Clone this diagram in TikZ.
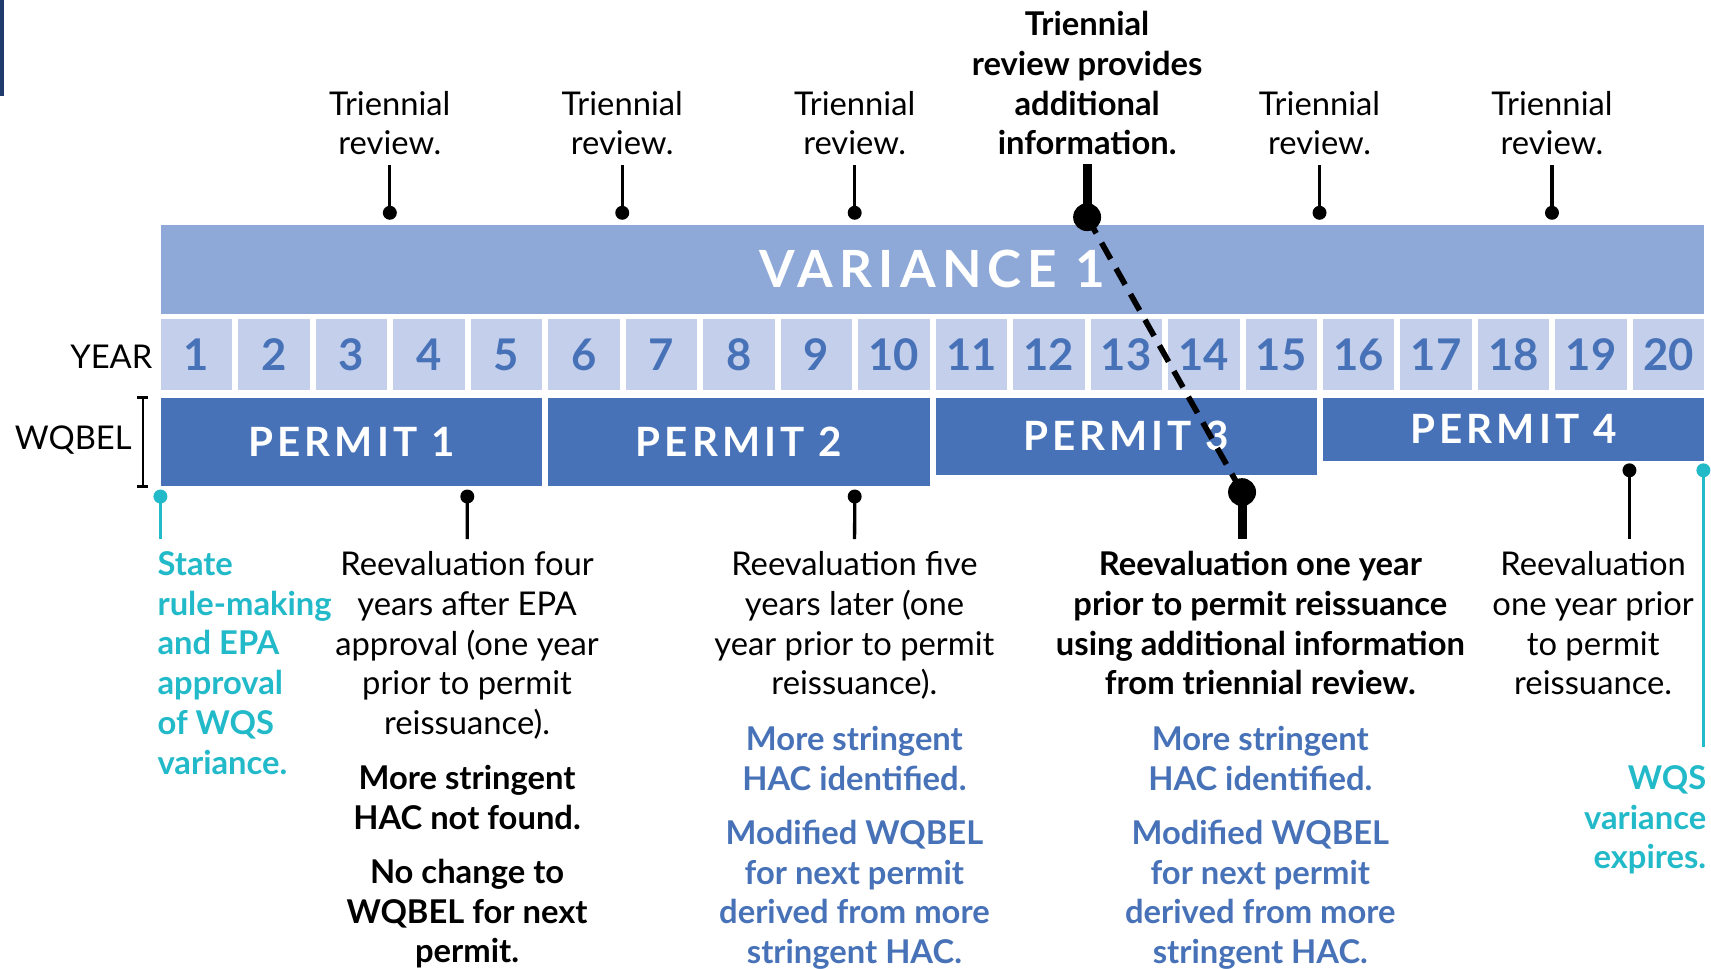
\documentclass[tikz,border=0pt]{standalone}
\usepackage{fontspec}
\setmainfont{Lato}
\newfontfamily\varfont[LetterSpace=12]{Lato}
\newfontfamily\permfont[LetterSpace=10]{Lato}
\definecolor{varblue}{HTML}{8EA9D8}
\definecolor{cellblue}{HTML}{C4D0EB}
\definecolor{permblue}{HTML}{4872B8}
\definecolor{tealc}{HTML}{22B9C9}
\definecolor{navy}{HTML}{1F3B6E}

\begin{document}
\begin{tikzpicture}[x=0.5pt,y=-0.5pt,
    body/.style={align=center,inner sep=0pt,anchor=north,font=\fontsize{15}{18.2}\selectfont},
    bodybf/.style={body,font=\fontsize{15}{18.2}\selectfont\bfseries},
    pinline/.style={line width=1.5pt},
    fatline/.style={line width=4.1pt}]
    \useasboundingbox (0,0) rectangle (1568,888);
    \fill[navy] (0,0) rectangle (4,88);

    % bars
    \node[fill=varblue,anchor=north west,inner sep=0pt,minimum width=707pt,minimum height=40.5pt,
        text=white,font=\varfont\bfseries\fontsize{23.5}{24}\selectfont] (var) at (147,206) {VARIANCE 1};
    \foreach \i in {1,...,20}
        \node[fill=cellblue,anchor=north west,inner sep=0pt,minimum width=32.75pt,minimum height=32.5pt,
            text=permblue,font=\bfseries\fontsize{20}{20}\selectfont] (y\i) at ({147+71*(\i-1)},292) {\i};
    \foreach \k/\h in {1/81,2/81,3/71,4/58}
        \node[fill=permblue,anchor=north west,inner sep=0pt,minimum width=174.75pt,minimum height=\h*0.5pt,
            text=white,font=\permfont\bfseries\fontsize{18.5}{18}\selectfont] (p\k) at ({147+355*(\k-1)},364) {PERMIT \k};

    \node[body,anchor=east] (yearlbl) at (140,327) {YEAR};
    \node[body,anchor=east] (wqbel) at (121,403) {WQBEL};
    \draw[line width=1.3pt] ([xshift=-8pt]p1.north west) -- ([xshift=-8pt]p1.south west);
    \draw[line width=1.3pt] ([xshift=-10.5pt]p1.north west) -- ([xshift=-5.5pt]p1.north west);
    \draw[line width=1.3pt] ([xshift=-10.5pt]p1.south west) -- ([xshift=-5.5pt]p1.south west);

    % triennial reviews
    \foreach \t in {3,6,9,15,18} {
        \node[body] (tri\t) at ({144.25+71*\t},83) {Triennial\\review.};
        \coordinate (d\t) at ({144.25+71*\t},195);
        \draw[pinline,shorten <=4.5pt] (tri\t) -- (d\t);
        \fill (d\t) circle (3.2pt);
    }
    \node[bodybf] (tri12) at ({144.25+71*12},10) {Triennial\\review provides\\additional\\information.};
    \coordinate (d12) at ({144.25+71*12},199);
    \draw[fatline,shorten <=4pt] (tri12) -- (d12);

    % reevaluations
    \coordinate (e0) at (147,455);
    \coordinate (e4) at ({144.25+71*4},455);
    \coordinate (e9) at ({144.25+71*9},455);
    \coordinate (e14) at ({144.25+71*14},451);
    \coordinate (e19) at ({144.25+71*19},431);
    \coordinate (e20) at (1561,431);

    \node[bodybf,text=tealc,anchor=north west,align=left] (state) at (144,505)
        {State\\rule-making\\and EPA\\approval\\of WQS\\variance.};
    \node[body] (re4) at (428,505) {Reevaluation four\\years after EPA\\approval (one year\\prior to permit\\reissuance).};
    \node[bodybf] (hac4) at (428,701) {More stringent\\HAC not found.};
    \node[bodybf] (same4) at (428,787) {No change to\\WQBEL for next\\permit.};
    \node[body] (re9) at (783,505) {Reevaluation five\\years later (one\\year prior to permit\\reissuance).};
    \node[bodybf,text=permblue] (hac9) at (783,665) {More stringent\\HAC identified.};
    \node[bodybf,text=permblue] (mod9) at (783,751) {Modified WQBEL\\for next permit\\derived from more\\stringent HAC.};
    \node[bodybf] (re14) at (1155,505) {Reevaluation one year\\prior to permit reissuance\\using additional information\\from triennial review.};
    \node[bodybf,text=permblue] (hac14) at (1155,665) {More stringent\\HAC identified.};
    \node[bodybf,text=permblue] (mod14) at (1155,751) {Modified WQBEL\\for next permit\\derived from more\\stringent HAC.};
    \node[body] (re19) at (1460,505) {Reevaluation\\one year prior\\to permit\\reissuance.};
    \node[bodybf,text=tealc,anchor=north east,align=right] (expire) at (1564,701) {WQS\\variance\\expires.};

    \draw[pinline,tealc,shorten >=5.5pt] (e0) -- (e0 |- state.north);
    \fill[tealc] (e0) circle (3.2pt);
    \draw[pinline,shorten >=5.5pt] (e4) -- (re4);
    \fill (e4) circle (3.2pt);
    \draw[pinline,shorten >=5.5pt] (e9) -- (re9);
    \fill (e9) circle (3.2pt);
    \draw[pinline,shorten >=5.5pt] (e19) -- (e19 |- re19.north);
    \fill (e19) circle (3.2pt);
    \draw[pinline,tealc,shorten >=8pt] (e20) -- (e20 |- expire.north);
    \fill[tealc] (e20) circle (3.2pt);
    \draw[fatline,shorten >=5.5pt] (e14) -- (e14 |- re14.north);

    % additional information carried to permit 3
    \draw[line width=2.6pt,dash pattern=on 8.5pt off 5pt] (d12) -- (e14);
    \fill (d12) circle (6.4pt);
    \fill (e14) circle (6.4pt);
\end{tikzpicture}
\end{document}
